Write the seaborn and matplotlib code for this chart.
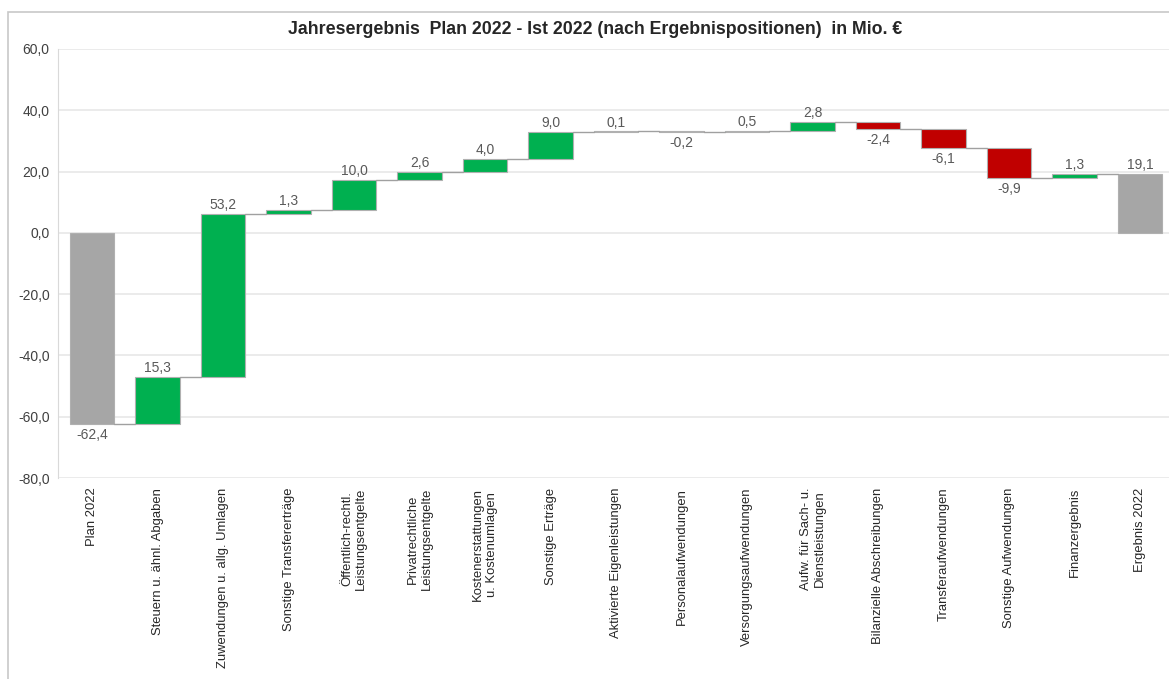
import seaborn as sns
import matplotlib.pyplot as plt
import matplotlib.patches as mpatches
import numpy as np

sns.set_style('white')
plt.rcParams['font.family'] = ['Liberation Sans', 'DejaVu Sans']

# Data
categories = ['Plan 2022', 'Steuern u. ähnl. Abgaben', 'Zuwendungen u. allg. Umlagen',
              'Sonstige Transfererträge', 'Öffentlich-rechtl.\nLeistungsentgelte',
              'Privatrechtliche\nLeistungsentgelte', 'Kostenerstattungen\nu. Kostenumlagen',
              'Sonstige Erträge', 'Aktivierte Eigenleistungen', 'Personalaufwendungen',
              'Versorgungsaufwendungen', 'Aufw. für Sach- u.\nDienstleistungen',
              'Bilanzielle Abschreibungen', 'Transferaufwendungen', 'Sonstige Aufwendungen',
              'Finanzergebnis', 'Ergebnis 2022']
plan_value = -62.4
deltas = [15.3, 53.2, 1.3, 10.0, 2.6, 4.0, 9.0, 0.1, -0.2, 0.5, 2.8, -2.4, -6.1, -9.9, 1.3]
result_value = 19.1

c_green = '#00B050'
c_red = '#C00000'
c_gray = '#A6A6A6'

# waterfall geometry
cum = np.cumsum([plan_value] + deltas)
heights = [plan_value] + deltas + [result_value]
bottoms = [0.0] + list(cum[:-1]) + [0.0]
colors = [c_gray] + [c_green if d >= 0 else c_red for d in deltas] + [c_gray]
levels = list(cum) + [result_value]

fig = plt.figure(figsize=(11.69, 6.79), dpi=100)
ax = fig.add_axes([58 / 1169, 201 / 679, 1 - 58 / 1169, 429 / 679])

sns.barplot(x=categories, y=heights, bottom=bottoms, color=c_green, width=0.68,
            errorbar=None, edgecolor='#B0B0B0', linewidth=0.8, ax=ax)
for p, c in zip(ax.patches, colors):
    p.set_facecolor(c)

# connectors
w = 0.68
for i in range(len(categories) - 1):
    ax.plot([i + w / 2, i + 1 - w / 2], [levels[i], levels[i]], color='#A0A0A0', lw=1, zorder=1)

# value labels
def fmt(v):
    return f'{v:.1f}'.replace('.', ',')

for i, (b, h) in enumerate(zip(bottoms, heights)):
    top = b + h
    if i == 0 or h < 0:
        ax.text(i, top - 1.2, fmt(h), ha='center', va='top', fontsize=10, color='#595959')
    else:
        ax.text(i, top + 0.6, fmt(h), ha='center', va='bottom', fontsize=10, color='#595959')

ax.set_ylim(-80, 60)
ax.set_xlim(-0.52, 16.44)
ax.set_yticks(np.arange(-80, 61, 20))
ax.set_yticklabels([fmt(v) for v in np.arange(-80, 61, 20)], fontsize=10, color='#404040')
ax.yaxis.grid(True, color='#E8E8E8', lw=1.2)
ax.set_axisbelow(True)
for s in ['top', 'right', 'bottom']:
    ax.spines[s].set_visible(False)
ax.spines['left'].set_color('#D9D9D9')
ax.tick_params(axis='both', length=0, pad=6)
ax.tick_params(axis='x', pad=7)
plt.setp(ax.get_xticklabels(), rotation=90, fontsize=9.4, color='#262626',
         ha='center', va='top', multialignment='center')
ax.set_xlabel('')
ax.set_ylabel('')

fig.text(595 / 1169, 1 - 30 / 679, 'Jahresergebnis  Plan 2022 - Ist 2022 (nach Ergebnispositionen)  in Mio. €',
         ha='center', va='center', fontsize=12.8, fontweight='bold', color='#262626')

# outer frame
fig.add_artist(mpatches.Rectangle((8 / 1169, -0.05), 1.2, 1.05 - 12 / 679, transform=fig.transFigure,
                                  fill=False, edgecolor='#C8C8C8', lw=1.2))

fig.savefig('out.png', dpi=100)
